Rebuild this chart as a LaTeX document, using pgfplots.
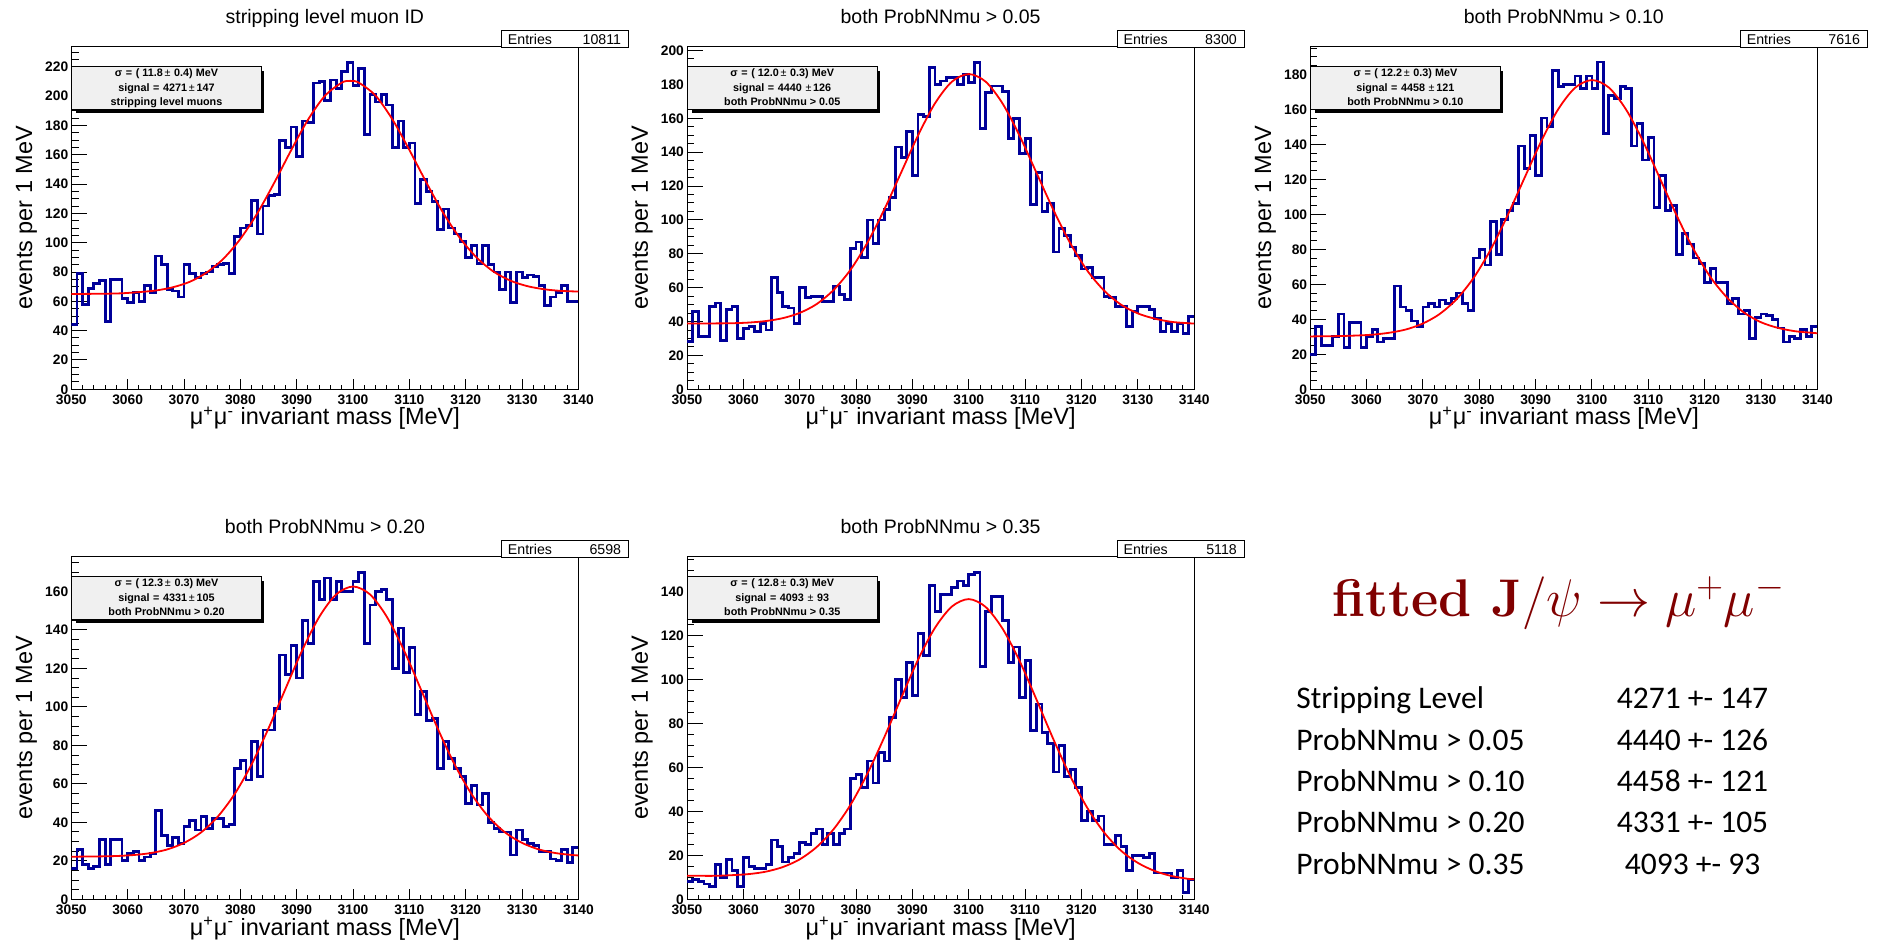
\RequirePackage{fix-cm}
\documentclass[border=0pt]{standalone}
\usepackage{fontspec}
\setmainfont{Liberation Sans}
\newfontfamily\lmfont{Latin Modern Roman}
\newfontfamily\calibri{Carlito}
\usepackage{pgfplots}
\pgfplotsset{compat=1.18}

\definecolor{histblue}{RGB}{0,0,153}
\definecolor{fitred}{RGB}{255,0,0}
\definecolor{statgray}{RGB}{240,240,240}
\definecolor{titlered}{RGB}{128,0,0}

\newcommand{\fs}[1]{\fontsize{#1}{#1}\selectfont}

\pgfplotsset{
  rootpad/.style={
    scale only axis, width=253.6pt, height=171.5pt, anchor=south west,
    xmin=3050, xmax=3140, ymin=0,
    xtick={3050,3060,...,3140}, minor x tick num=4,
    ytick={0,20,...,240}, minor y tick num=3,
    tick align=inside, tick pos=left,
    axis line style={line width=0.5pt},
    tick style={black, line width=0.5pt},
    xtick style={/pgfplots/major tick length=5pt,/pgfplots/minor tick length=2.2pt},
    ytick style={/pgfplots/major tick length=7.8pt,/pgfplots/minor tick length=3.6pt},
    scaled ticks=false,
    /pgf/number format/1000 sep={},
    /pgf/number format/assume math mode=true,
    ticklabel style={font=\bfseries\fs{6.9}, inner sep=0pt},
    xticklabel style={yshift=-2.7pt},
    yticklabel style={xshift=-1.35pt},
  },
  hist/.style={const plot mark left, histblue, line width=1.4pt, mark=none},
  fit/.style={smooth, fitred, line width=0.9pt, mark=none},
}

% titles, stat boxes and axis labels of one pad: L B title entries line1 line2 line3
\newcommand{\padtext}[7]{%
  \pgfmathsetmacro\padR{#1+253.6}
  \pgfmathsetmacro\padT{#2+171.5}
  \pgfmathsetmacro\padC{#1+126.8}
  \pgfmathsetmacro\padM{#2+85.75}
  \node[anchor=base,inner sep=0pt,font=\fs{9.75}] at ({\padC},{\padT+11.6}) {#3};
  \draw[line width=0.5pt,fill=white] ({\padR-38.5},{\padT-0.8}) rectangle ({\padR+25},{\padT+8});
  \node[anchor=base west,inner sep=0pt,font=\fs{7.1}] at ({\padR-35.5},{\padT+1.1}) {Entries};
  \node[anchor=base east,inner sep=0pt,font=\fs{7.1}] at ({\padR+21.5},{\padT+1.1}) {#4};
  \fill[black] ({#1+2.5},{\padT-33.35}) rectangle ({#1+96.4},{\padT-12.5});
  \draw[line width=0.5pt,fill=statgray] ({#1},{\padT-10}) rectangle ({#1+95.2},{\padT-31.65});
  \node[anchor=base,inner sep=0pt,font=\bfseries\fs{5.4}] at ({#1+47.6},{\padT-15.3}) {#5};
  \node[anchor=base,inner sep=0pt,font=\bfseries\fs{5.4}] at ({#1+47.6},{\padT-22.65}) {#6};
  \node[anchor=base,inner sep=0pt,font=\bfseries\fs{5.4}] at ({#1+47.6},{\padT-29.65}) {#7};
  \node[rotate=90,anchor=base,inner sep=0pt,font=\fs{11.75}] at ({#1-19.6},{\padM}) {events per 1 MeV};
  \node[anchor=base,inner sep=0pt,font=\fs{11.75}] at ({\padC},{#2-17.85}) {μ\textsuperscript{+}μ\textsuperscript{-} invariant mass [MeV]};
}

\begin{document}
\begin{tikzpicture}[x=1pt,y=1pt]
\useasboundingbox (0,0) rectangle (939.5,471.5);

% ---- stripping level ----
\begin{axis}[rootpad, at={(35.65pt,276.85pt)}, ymax=234]
\addplot[hist] coordinates {
(3050,44)(3051,79)(3052,58)(3053,69)(3054,72)(3055,74)(3056,46)(3057,75)(3058,75)(3059,62)
(3060,59)(3061,66)(3062,60)(3063,71)(3064,66)(3065,91)(3066,85)(3067,68)(3068,67)(3069,63)
(3070,85)(3071,79)(3072,76)(3073,79)(3074,80)(3075,84)(3076,85)(3077,86)(3078,79)(3079,104)
(3080,110)(3081,112)(3082,129)(3083,106)(3084,125)(3085,132)(3086,133)(3087,170)(3088,165)(3089,179)
(3090,159)(3091,183)(3092,182)(3093,209)(3094,210)(3095,197)(3096,211)(3097,205)(3098,217)(3099,223)
(3100,207)(3101,219)(3102,174)(3103,201)(3104,196)(3105,201)(3106,194)(3107,165)(3108,183)(3109,165)
(3110,168)(3111,127)(3112,143)(3113,135)(3114,128)(3115,109)(3116,123)(3117,110)(3118,106)(3119,101)
(3120,90)(3121,98)(3122,86)(3123,98)(3124,85)(3125,80)(3126,68)(3127,80)(3128,59)(3129,80)
(3130,76)(3131,78)(3132,77)(3133,71)(3134,57)(3135,63)(3136,66)(3137,71)(3138,60)(3139,60)
(3140,60)};
\addplot[fit] coordinates {
(3050,65.0)(3053,65.1)(3056,65.2)(3059,65.5)(3062,66.3)(3065,67.4)(3068,69.6)(3071,73.3)
(3074,79.6)(3077,89.1)(3080,102.6)(3083,120.0)(3086,140.8)(3089,163.0)(3092,183.9)(3095,200.2)
(3098,209.2)(3099.5,210.4)(3101,209.2)(3104,200.3)(3107,184.0)(3110,163.2)(3113,141.1)(3116,120.3)
(3119,103.0)(3122,89.6)(3125,80.1)(3128,74.0)(3131,70.3)(3134,68.2)(3137,67.1)(3140,66.7)};
\end{axis}

% ---- ProbNNmu > 0.05 ----
\begin{axis}[rootpad, at={(343.5pt,276.85pt)}, ymax=202.5]
\addplot[hist] coordinates {
(3050,28)(3051,46)(3052,31)(3053,31)(3054,49)(3055,51)(3056,29)(3057,47)(3058,49)(3059,30)
(3060,36)(3061,37)(3062,34)(3063,39)(3064,35)(3065,66)(3066,57)(3067,49)(3068,48)(3069,39)
(3070,60)(3071,54)(3072,55)(3073,55)(3074,52)(3075,52)(3076,61)(3077,56)(3078,53)(3079,83)
(3080,87)(3081,78)(3082,100)(3083,86)(3084,100)(3085,106)(3086,113)(3087,143)(3088,137)(3089,152)
(3090,126)(3091,162)(3092,161)(3093,190)(3094,180)(3095,182)(3096,184)(3097,184)(3098,180)(3099,186)
(3100,181)(3101,193)(3102,154)(3103,175)(3104,179)(3105,179)(3106,176)(3107,148)(3108,160)(3109,139)
(3110,148)(3111,109)(3112,128)(3113,105)(3114,110)(3115,81)(3116,95)(3117,91)(3118,84)(3119,79)
(3120,71)(3121,72)(3122,66)(3123,66)(3124,55)(3125,54)(3126,49)(3127,49)(3128,37)(3129,46)
(3130,49)(3131,49)(3132,47)(3133,42)(3134,34)(3135,39)(3136,34)(3137,39)(3138,33)(3139,43)
(3140,43)};
\addplot[fit] coordinates {
(3050,38.8)(3052,38.8)(3055,38.9)(3058,39.0)(3061,39.4)(3064,40.3)(3067,42.0)(3070,45.1)
(3073,50.3)(3076,58.6)(3079,70.5)(3082,86.5)(3085,106.1)(3088,128.0)(3091,149.9)(3094,168.8)
(3097,181.6)(3100,186.1)(3103,181.6)(3106,168.7)(3109,149.8)(3112,127.9)(3115,106.0)(3118,86.3)
(3121,70.2)(3124,58.3)(3127,50.0)(3130,44.8)(3133,41.7)(3136,39.8)(3139,39.0)(3140,38.8)};
\end{axis}

% ---- ProbNNmu > 0.10 ----
\begin{axis}[rootpad, at={(655.1pt,276.85pt)}, ymax=196]
\addplot[hist] coordinates {
(3050,20)(3051,36)(3052,25)(3053,25)(3054,30)(3055,43)(3056,24)(3057,38)(3058,38)(3059,24)
(3060,30)(3061,34)(3062,27)(3063,29)(3064,29)(3065,59)(3066,47)(3067,45)(3068,39)(3069,36)
(3070,47)(3071,49)(3072,47)(3073,51)(3074,49)(3075,52)(3076,55)(3077,49)(3078,45)(3079,75)
(3080,80)(3081,71)(3082,96)(3083,77)(3084,97)(3085,102)(3086,106)(3087,139)(3088,126)(3089,145)
(3090,122)(3091,155)(3092,150)(3093,182)(3094,173)(3095,174)(3096,174)(3097,179)(3098,172)(3099,179)
(3100,172)(3101,187)(3102,146)(3103,168)(3104,166)(3105,173)(3106,172)(3107,139)(3108,152)(3109,131)
(3110,144)(3111,104)(3112,122)(3113,102)(3114,105)(3115,77)(3116,89)(3117,83)(3118,75)(3119,72)
(3120,61)(3121,69)(3122,61)(3123,61)(3124,49)(3125,52)(3126,43)(3127,45)(3128,29)(3129,41)
(3130,43)(3131,42)(3132,40)(3133,35)(3134,27)(3135,30)(3136,29)(3137,34)(3138,30)(3139,36)
(3140,36)};
\addplot[fit] coordinates {
(3050,30.2)(3052,30.3)(3055,30.4)(3058,30.7)(3061,31.2)(3064,32.3)(3067,34.2)(3070,37.6)
(3073,43.1)(3076,51.6)(3079,63.7)(3082,79.7)(3085,99.2)(3088,120.6)(3091,141.8)(3094,160.0)
(3097,172.3)(3100,176.7)(3103,172.4)(3106,160.1)(3109,142.1)(3112,120.9)(3115,99.5)(3118,80.2)
(3121,64.2)(3124,52.3)(3127,43.8)(3130,38.3)(3133,35.1)(3136,33.2)(3139,32.3)(3140,32.0)};
\end{axis}

% ---- ProbNNmu > 0.20 ----
\begin{axis}[rootpad, at={(35.65pt,21.85pt)}, ymax=178.3]
\addplot[hist] coordinates {
(3050,16)(3051,26)(3052,18)(3053,16)(3054,17)(3055,31)(3056,18)(3057,31)(3058,31)(3059,20)
(3060,24)(3061,25)(3062,20)(3063,22)(3064,24)(3065,46)(3066,33)(3067,28)(3068,32)(3069,29)
(3070,38)(3071,41)(3072,36)(3073,43)(3074,37)(3075,42)(3076,42)(3077,38)(3078,39)(3079,68)
(3080,72)(3081,62)(3082,82)(3083,64)(3084,88)(3085,88)(3086,99)(3087,127)(3088,117)(3089,132)
(3090,115)(3091,145)(3092,133)(3093,165)(3094,156)(3095,167)(3096,156)(3097,165)(3098,160)(3099,160)
(3100,165)(3101,170)(3102,133)(3103,153)(3104,160)(3105,161)(3106,156)(3107,120)(3108,141)(3109,118)
(3110,131)(3111,96)(3112,108)(3113,93)(3114,94)(3115,68)(3116,82)(3117,73)(3118,68)(3119,64)
(3120,50)(3121,59)(3122,49)(3123,55)(3124,40)(3125,37)(3126,35)(3127,35)(3128,23)(3129,36)
(3130,31)(3131,29)(3132,28)(3133,25)(3134,25)(3135,21)(3136,20)(3137,26)(3138,19)(3139,27)
(3140,27)};
\addplot[fit] coordinates {
(3050,22.1)(3052,22.2)(3055,22.3)(3058,22.5)(3061,23.0)(3064,24.0)(3067,25.9)(3070,29.3)
(3073,34.7)(3076,43.0)(3079,54.8)(3082,70.2)(3085,88.9)(3088,109.4)(3091,129.6)(3094,146.8)
(3097,158.5)(3100,162.6)(3103,158.5)(3106,146.8)(3109,129.6)(3112,109.4)(3115,88.9)(3118,70.2)
(3121,54.8)(3124,43.0)(3127,34.7)(3130,29.3)(3133,25.9)(3136,24.0)(3139,23.0)(3140,22.8)};
\end{axis}

% ---- ProbNNmu > 0.35 ----
\begin{axis}[rootpad, at={(343.5pt,21.85pt)}, ymax=156.3]
\addplot[hist] coordinates {
(3050,8)(3051,9)(3052,8)(3053,7)(3054,6)(3055,16)(3056,10)(3057,18)(3058,13)(3059,6)
(3060,19)(3061,15)(3062,14)(3063,14)(3064,16)(3065,27)(3066,24)(3067,17)(3068,19)(3069,21)
(3070,26)(3071,25)(3072,30)(3073,32)(3074,25)(3075,30)(3076,25)(3077,30)(3078,32)(3079,55)
(3080,57)(3081,51)(3082,63)(3083,53)(3084,67)(3085,63)(3086,83)(3087,100)(3088,92)(3089,108)
(3090,93)(3091,121)(3092,111)(3093,143)(3094,131)(3095,139)(3096,139)(3097,142)(3098,145)(3099,143)
(3100,148)(3101,149)(3102,106)(3103,131)(3104,138)(3105,138)(3106,127)(3107,108)(3108,115)(3109,92)
(3110,109)(3111,77)(3112,89)(3113,76)(3114,71)(3115,58)(3116,70)(3117,56)(3118,59)(3119,51)
(3120,36)(3121,40)(3122,36)(3123,38)(3124,25)(3125,25)(3126,29)(3127,24)(3128,13)(3129,20)
(3130,20)(3131,19)(3132,21)(3133,12)(3134,12)(3135,12)(3136,10)(3137,13)(3138,3)(3139,9)
(3140,9)};
\addplot[fit] coordinates {
(3050,10.7)(3052,10.7)(3055,10.7)(3058,11.0)(3061,11.5)(3064,12.6)(3067,14.7)(3070,18.2)
(3073,23.8)(3076,31.9)(3079,43.0)(3082,57.2)(3085,73.8)(3088,91.7)(3091,109.2)(3094,123.7)
(3097,133.4)(3100,136.8)(3103,133.2)(3106,123.3)(3109,108.7)(3112,91.1)(3115,73.0)(3118,56.2)
(3121,41.8)(3124,30.5)(3127,22.2)(3130,16.6)(3133,12.9)(3136,10.6)(3139,9.3)(3140,9.1)};
\end{axis}

\padtext{35.65}{276.85}{stripping level muon ID}{10811}{σ\,\,=\,\,( 11.8\,{\mdseries ±}\,\,0.4) MeV}{signal\,\,=\,\,4271\,{\mdseries ±}\,147}{stripping level muons}
\padtext{343.5}{276.85}{both ProbNNmu > 0.05}{8300}{σ\,\,=\,\,( 12.0\,{\mdseries ±}\,\,0.3) MeV}{signal\,\,=\,\,4440\,\,{\mdseries ±}\,126}{both ProbNNmu > 0.05}
\padtext{655.1}{276.85}{both ProbNNmu > 0.10}{7616}{σ\,\,=\,\,( 12.2\,{\mdseries ±}\,\,0.3) MeV}{signal\,\,=\,\,4458\,\,{\mdseries ±}\,121}{both ProbNNmu > 0.10}
\padtext{35.65}{21.85}{both ProbNNmu > 0.20}{6598}{σ\,\,=\,\,( 12.3\,{\mdseries ±}\,\,0.3) MeV}{signal\,\,=\,\,4331\,{\mdseries ±}\,105}{both ProbNNmu > 0.20}
\padtext{343.5}{21.85}{both ProbNNmu > 0.35}{5118}{σ\,\,=\,\,( 12.8\,{\mdseries ±}\,\,0.3) MeV}{signal\,\,=\,\,4093\,\,{\mdseries ±}\,\,93}{both ProbNNmu > 0.35}

% ---- summary ----
\node[anchor=base west,inner sep=0pt,text=titlered,font=\fs{26.5}] at (665.85,163.15)
  {{\lmfont\bfseries fitted J}$/\psi\rightarrow\mu^{+}\mu^{-}$};
\begin{scope}[every node/.style={inner sep=0pt,font=\calibri\fs{15.75}}]
\node[anchor=base west] at (648,117.35) {Stripping Level};
\node[anchor=base west] at (648,96.5) {ProbNNmu > 0.05};
\node[anchor=base west] at (648,76) {ProbNNmu > 0.10};
\node[anchor=base west] at (648,55.15) {ProbNNmu > 0.20};
\node[anchor=base west] at (648,34.35) {ProbNNmu > 0.35};
\node[anchor=base] at (846.25,117.35) {4271 +- 147};
\node[anchor=base] at (846.25,96.5) {4440 +- 126};
\node[anchor=base] at (846.25,76) {4458 +- 121};
\node[anchor=base] at (846.25,55.15) {4331 +- 105};
\node[anchor=base] at (846.25,34.35) {4093 +- 93};
\end{scope}
\end{tikzpicture}
\end{document}
